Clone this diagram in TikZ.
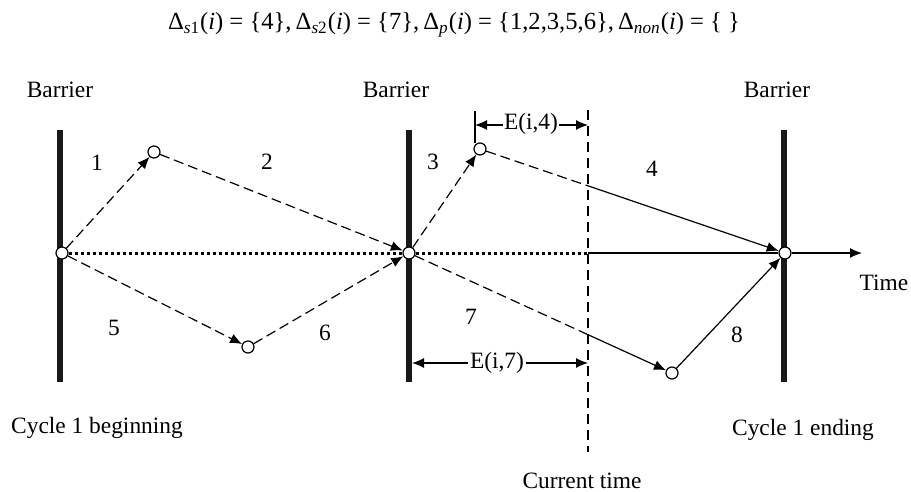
\documentclass[tikz,border=0pt]{standalone}
\usepackage{fontspec}
\setmainfont{Liberation Serif}
\usetikzlibrary{arrows.meta,calc}
\begin{document}
\begin{tikzpicture}[x=0.5pt,y=-0.5pt,
  font=\fontsize{11.7pt}{14pt}\selectfont,
  barrier/.style={line width=3pt,draw=black!90},
  ev/.style={circle,draw,fill=white,line width=0.6pt,inner sep=0pt,minimum size=6pt},
  tip/.style={-{Latex[length=6pt,width=5pt]}},
  dedge/.style={line width=0.6pt,dash pattern=on 5pt off 2.5pt},
  sedge/.style={line width=0.6pt},
  dotline/.style={line width=1.5pt,dash pattern=on 1.5pt off 1.5pt},
  nowline/.style={line width=0.9pt,dash pattern=on 5pt off 3pt},
  dim/.style={line width=0.6pt,{Latex[length=6pt,width=5pt]}-{Latex[length=6pt,width=5pt]}},
  lbl/.style={inner sep=1pt}]
\useasboundingbox (0,0) rectangle (911,492);

% formula
\node[lbl,font=\fontsize{12.3pt}{14pt}\selectfont] (formula) at (454,25)
 {Δ\textsubscript{\textit{s}1}(\textit{i}) = \{4\},\,Δ\textsubscript{\textit{s}2}(\textit{i}) = \{7\},\,Δ\textsubscript{\textit{p}}(\textit{i}) = \{1,2,3,5,6\},\,Δ\textsubscript{\textit{non}}(\textit{i}) = \{ \}};

% barriers
\coordinate (b1t) at (60,130); \coordinate (b1b) at (60,382);
\coordinate (b2t) at (409,130); \coordinate (b2b) at (409,382);
\coordinate (b3t) at (784,130); \coordinate (b3b) at (784,382);
\draw[barrier] (b1t) -- (b1b);
\draw[barrier] (b2t) -- (b2b);
\draw[barrier] (b3t) -- (b3b);

\node[lbl] (bl1) at (60,90) {Barrier};
\node[lbl] (bl2) at (396,90) {Barrier};
\node[lbl] (bl3) at (777,90) {Barrier};

% current time line
\coordinate (ctt) at (588,110); \coordinate (ctb) at (588,452);
\draw[nowline] (ctt) -- (ctb);
\coordinate (ct) at (588,253);

% events
\node[ev] (L) at (62,253) {};
\node[ev] (n1) at (154,152) {};
\node[ev] (n5) at (248,347) {};
\node[ev] (M) at (409,253) {};
\node[ev] (n3) at (480,149) {};
\node[ev] (n7) at (672,373) {};
\node[ev] (R) at (785,253) {};
\coordinate (tend) at (862,253);

% axis
\draw[dotline] (L) -- (M);
\draw[dotline] (M) -- (ct);
\draw[sedge] (ct) -- (R);
\draw[sedge,tip] (R) -- (tend);
\node[lbl] (time) at (884,283) {Time};

% edges
\draw[dedge,tip] (L) -- (n1);
\draw[dedge,tip] (n1) -- (M);
\draw[dedge,tip] (L) -- (n5);
\draw[dedge,tip] (n5) -- (M);
\draw[dedge,tip] (M) -- (n3);
\coordinate (c4) at ($(n3)!{(588-480)/(785-480)}!(R)$);
\draw[dedge] (n3) -- (c4);
\draw[sedge,tip] (c4) -- (R);
\coordinate (c7) at ($(M)!{(588-409)/(672-409)}!(n7)$);
\draw[dedge] (M) -- (c7);
\draw[sedge,tip] (c7) -- (n7);
\draw[sedge,tip] (n7) -- (R);

% edge labels
\node[lbl] (l1) at (97,163) {1};
\node[lbl] (l2) at (267,162) {2};
\node[lbl] (l3) at (433,162) {3};
\node[lbl] (l4) at (652,169) {4};
\node[lbl] (l5) at (114,328) {5};
\node[lbl] (l6) at (325,333) {6};
\node[lbl] (l7) at (471,317) {7};
\node[lbl] (l8) at (737,335) {8};

% E(i,4)
\coordinate (e4t) at (475,111); \coordinate (e4b) at (475,143);
\draw[line width=0.6pt] (e4t) -- (e4b);
\coordinate (e4l) at (475,125); \coordinate (e4r) at (588,125);
\draw[dim] (e4l) -- (e4r);
\node[lbl,fill=white,inner sep=0.5pt] (e4) at (531,124) {E(i,4)};

% E(i,7)
\coordinate (e7l) at (412,363); \coordinate (e7r) at (588,363);
\draw[dim] (e7l) -- (e7r);
\node[lbl,fill=white,inner sep=1pt] (e7) at (497,363) {E(i,7)};

% bottom labels
\node[lbl] (cb) at (97,428) {Cycle 1 beginning};
\node[lbl] (ce) at (803,430) {Cycle 1 ending};
\node[lbl] (ctl) at (582,481) {Current time};
\end{tikzpicture}
\end{document}
